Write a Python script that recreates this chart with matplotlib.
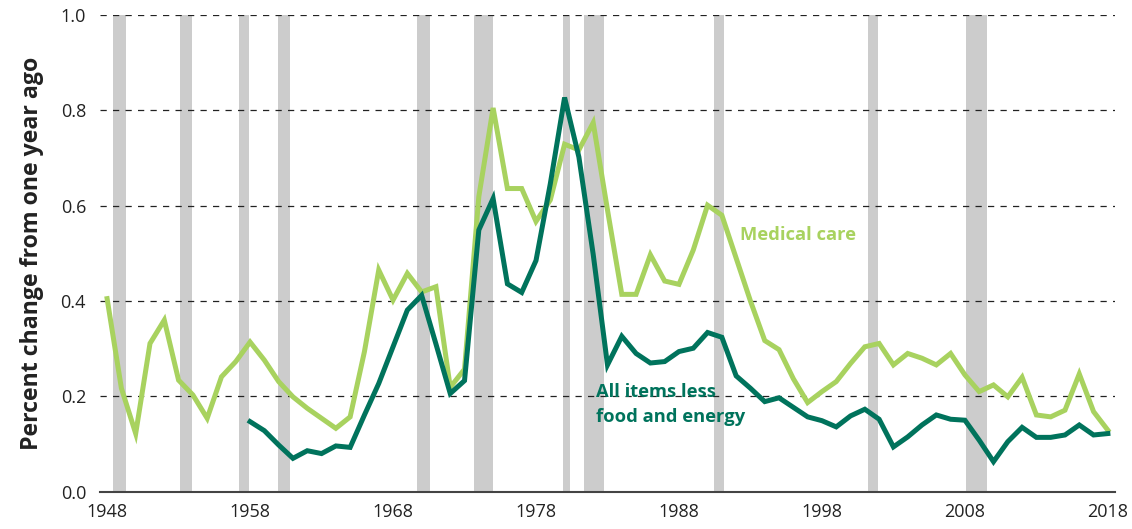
import numpy as np
import matplotlib
matplotlib.use('Agg')
import matplotlib.pyplot as plt

plt.rcParams['font.family'] = ['Open Sans', 'DejaVu Sans']

years = list(range(1948, 2019))

medical = [0.405, 0.217, 0.122, 0.311, 0.360, 0.234, 0.203, 0.154, 0.241, 0.273,
           0.314, 0.276, 0.231, 0.199, 0.175, 0.154, 0.133, 0.157, 0.294, 0.465,
           0.402, 0.458, 0.419, 0.430, 0.219, 0.257, 0.619, 0.805, 0.636, 0.636,
           0.567, 0.612, 0.729, 0.717, 0.774, 0.591, 0.414, 0.414, 0.497, 0.442,
           0.435, 0.507, 0.601, 0.580, 0.490, 0.400, 0.317, 0.298, 0.237, 0.187,
           0.210, 0.231, 0.269, 0.304, 0.311, 0.266, 0.290, 0.280, 0.266, 0.290,
           0.245, 0.210, 0.224, 0.199, 0.240, 0.161, 0.157, 0.171, 0.247, 0.168,
           0.129]

core_years = list(range(1958, 2019))
core = [0.147, 0.128, 0.098, 0.070, 0.086, 0.080, 0.096, 0.093, 0.161, 0.227,
        0.304, 0.381, 0.412, 0.310, 0.206, 0.233, 0.549, 0.615, 0.436, 0.418,
        0.485, 0.646, 0.827, 0.702, 0.498, 0.266, 0.326, 0.290, 0.270, 0.273,
        0.294, 0.301, 0.334, 0.324, 0.243, 0.217, 0.189, 0.197, 0.177, 0.157,
        0.149, 0.136, 0.159, 0.173, 0.152, 0.094, 0.115, 0.140, 0.161, 0.152,
        0.150, 0.108, 0.063, 0.105, 0.135, 0.114, 0.114, 0.119, 0.140, 0.119,
        0.122]

# shaded recession periods (start, end)
recessions = [(1948.42, 1949.31), (1953.13, 1953.97), (1957.23, 1957.93),
              (1959.96, 1960.78), (1969.68, 1970.62), (1973.66, 1974.99),
              (1979.89, 1980.41), (1981.36, 1982.73), (1990.45, 1991.15),
              (2001.22, 2001.92), (2008.05, 2009.54)]

xtick_years = [1948, 1958, 1968, 1978, 1988, 1998, 2008, 2018]
yticks = [0.0, 0.2, 0.4, 0.6, 0.8, 1.0]

LIGHT = '#a8d25f'
DARK = '#00735c'

fig = plt.figure(figsize=(11.32, 5.29), dpi=100)
ax = fig.add_axes([0.0883, 0.0705, 0.8967, 0.9011])

for s, e in recessions:
    ax.axvspan(s, e, ymin=0, ymax=1, color='#cccccc', lw=0, zorder=1)

for y in yticks[1:]:
    ax.axhline(y, color='#222222', lw=0.9, dashes=(5, 5), zorder=2)

ax.plot(years, medical, color=LIGHT, lw=3.6, zorder=3, solid_joinstyle='miter')
ax.plot(core_years, core, color=DARK, lw=3.6, zorder=4, solid_joinstyle='miter')

ax.text(1992.3, 0.528, 'Medical care', color=LIGHT, fontsize=13.2,
        fontweight='bold', ha='left', va='baseline')
ax.text(1982.2, 0.198, 'All items less', color=DARK, fontsize=13.2,
        fontweight='bold', ha='left', va='baseline')
ax.text(1982.2, 0.147, 'food and energy', color=DARK, fontsize=13.2,
        fontweight='bold', ha='left', va='baseline')

ax.set_xlim(1947.5, 2018.5)
ax.set_ylim(0, 1.0)
ax.set_xticks(xtick_years)
ax.set_xticklabels([str(y) for y in xtick_years])
ax.set_yticks(yticks)
ax.set_yticklabels([f'{y:.1f}' for y in yticks])
ax.tick_params(length=0, labelsize=13, colors='#222222', pad=8)
ax.tick_params(axis='y', pad=10)

for side in ['left', 'right', 'top']:
    ax.spines[side].set_visible(False)
ax.spines['bottom'].set_color('#444444')
ax.spines['bottom'].set_linewidth(1.5)
ax.spines['bottom'].set_zorder(5)

ax.set_ylabel('Percent change from one year ago', fontsize=16.7,
              fontweight='bold', color='#222222', labelpad=12)

fig.savefig('out.png', dpi=100)
